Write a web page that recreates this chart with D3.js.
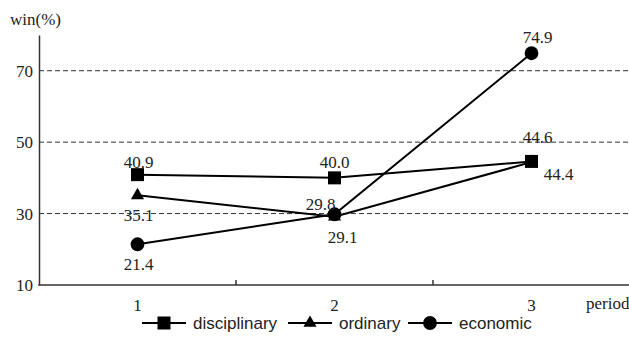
<!DOCTYPE html>
<html>
<head>
<meta charset="utf-8">
<script src="https://cdn.jsdelivr.net/npm/d3@7"></script>
<style>
  body { margin: 0; background: #fff; }
  #chart svg { display: block; }
</style>
</head>
<body>
<div id="chart"></div>
<script>
// data
const periods = ['1', '2', '3'];
const disciplinary = [40.9, 40.0, 44.6];
const ordinary = [35.1, 29.1, 44.4];
const economic = [21.4, 29.8, 74.9];
const yTicks = [10, 30, 50, 70];
const seriesNames = ['disciplinary', 'ordinary', 'economic'];

// label offsets (dx, dy) from each point
const labelOffsets = {
    disciplinary: [[1, -7], [0, -10], [6, -18]],
    ordinary: [[1, 26], [8, 26], [27, 18]],
    economic: [[1, 26], [-14, -4], [6, -10]]
};

const W = 629, H = 346;
const plot = {left: 39, right: 630, top: 35, bottom: 285};

const svg = d3.select('#chart')
    .append('svg')
    .attr('width', W)
    .attr('height', H);

const x = d3.scaleBand()
    .domain(periods)
    .range([plot.left, plot.right]);

const y = d3.scaleLinear()
    .domain([10, 80])
    .range([plot.bottom, plot.top]);

const serif = '"Liberation Serif", "Times New Roman", serif';
const sans = '"Liberation Sans", Arial, sans-serif';

// dashed gridlines
svg.append('g')
    .selectAll('line')
    .data(yTicks.filter(d => d > 10))
    .enter()
    .append('line')
    .attr('x1', plot.left)
    .attr('x2', W)
    .attr('y1', d => y(d))
    .attr('y2', d => y(d))
    .attr('stroke', '#333')
    .attr('stroke-width', 1)
    .attr('stroke-dasharray', '5,3');

// y axis
const yAxis = svg.append('g')
    .attr('transform', `translate(${plot.left},0)`)
    .call(d3.axisLeft(y).tickValues(yTicks).tickSize(0).tickPadding(6));
yAxis.select('.domain').attr('stroke', '#333').attr('stroke-width', 1.5);
yAxis.selectAll('text')
    .style('font-family', serif)
    .style('font-size', '17px')
    .attr('fill', '#222');

// x axis
const xAxis = svg.append('g')
    .attr('transform', `translate(0,${plot.bottom})`)
    .call(d3.axisBottom(x).tickSize(0).tickPadding(14));
xAxis.select('.domain').remove();
xAxis.selectAll('text')
    .style('font-family', serif)
    .style('font-size', '17px')
    .attr('fill', '#222');

svg.append('line')
    .attr('x1', plot.left - 0.75)
    .attr('x2', W)
    .attr('y1', plot.bottom)
    .attr('y2', plot.bottom)
    .attr('stroke', '#333')
    .attr('stroke-width', 1.5);

// ticks between categories
svg.append('g')
    .selectAll('line')
    .data(periods.slice(0, -1))
    .enter()
    .append('line')
    .attr('x1', d => x(d) + x.bandwidth())
    .attr('x2', d => x(d) + x.bandwidth())
    .attr('y1', plot.bottom)
    .attr('y2', plot.bottom - 5)
    .attr('stroke', '#333')
    .attr('stroke-width', 1.5);

// axis titles
svg.append('text')
    .attr('x', 10)
    .attr('y', 25)
    .style('font-family', serif)
    .style('font-size', '17px')
    .attr('fill', '#222')
    .text('win(%)');

svg.append('text')
    .attr('x', 586)
    .attr('y', 309)
    .style('font-family', serif)
    .style('font-size', '17px')
    .attr('fill', '#222')
    .text('period');

// markers
const markerPath = {
    disciplinary: d3.symbol(d3.symbolSquare, 169),
    ordinary: d3.symbol(d3.symbolTriangle, 75),
    economic: d3.symbol(d3.symbolCircle, 150)
};

const cx = (d, i) => x(periods[i]) + x.bandwidth() / 2;

const allSeries = [
    {name: 'disciplinary', values: disciplinary},
    {name: 'ordinary', values: ordinary},
    {name: 'economic', values: economic}
];

allSeries.forEach(s => {
    svg.append('path')
        .datum(s.values)
        .attr('fill', 'none')
        .attr('stroke', '#000')
        .attr('stroke-width', 2)
        .attr('d', d3.line()
            .x(cx)
            .y(d => y(d))
        );
});

allSeries.forEach(s => {
    svg.append('g')
        .selectAll('path')
        .data(s.values)
        .enter()
        .append('path')
        .attr('d', markerPath[s.name]())
        .attr('transform', (d, i) => `translate(${cx(d, i)},${y(d)})`)
        .attr('fill', '#000');
});

// value labels
allSeries.forEach(s => {
    svg.append('g')
        .selectAll('text')
        .data(s.values)
        .enter()
        .append('text')
        .attr('x', (d, i) => cx(d, i) + labelOffsets[s.name][i][0])
        .attr('y', (d, i) => y(d) + labelOffsets[s.name][i][1])
        .attr('text-anchor', 'middle')
        .style('font-family', serif)
        .style('font-size', '17px')
        .attr('fill', '#222')
        .text(d => d.toFixed(1));
});

// legend
const legendItems = [
    {name: 'disciplinary', x: 142},
    {name: 'ordinary', x: 288},
    {name: 'economic', x: 408}
];
const ly = 323;
const legend = svg.append('g');
legendItems.forEach(item => {
    legend.append('line')
        .attr('x1', item.x)
        .attr('x2', item.x + 44)
        .attr('y1', ly)
        .attr('y2', ly)
        .attr('stroke', '#000')
        .attr('stroke-width', 2);
    legend.append('path')
        .attr('d', markerPath[item.name]())
        .attr('transform', `translate(${item.x + 22},${ly})`)
        .attr('fill', '#000');
    legend.append('text')
        .attr('x', item.x + 51)
        .attr('y', ly + 6)
        .style('font-family', sans)
        .style('font-size', '17px')
        .attr('fill', '#222')
        .text(item.name);
});
</script>
</body>
</html>
